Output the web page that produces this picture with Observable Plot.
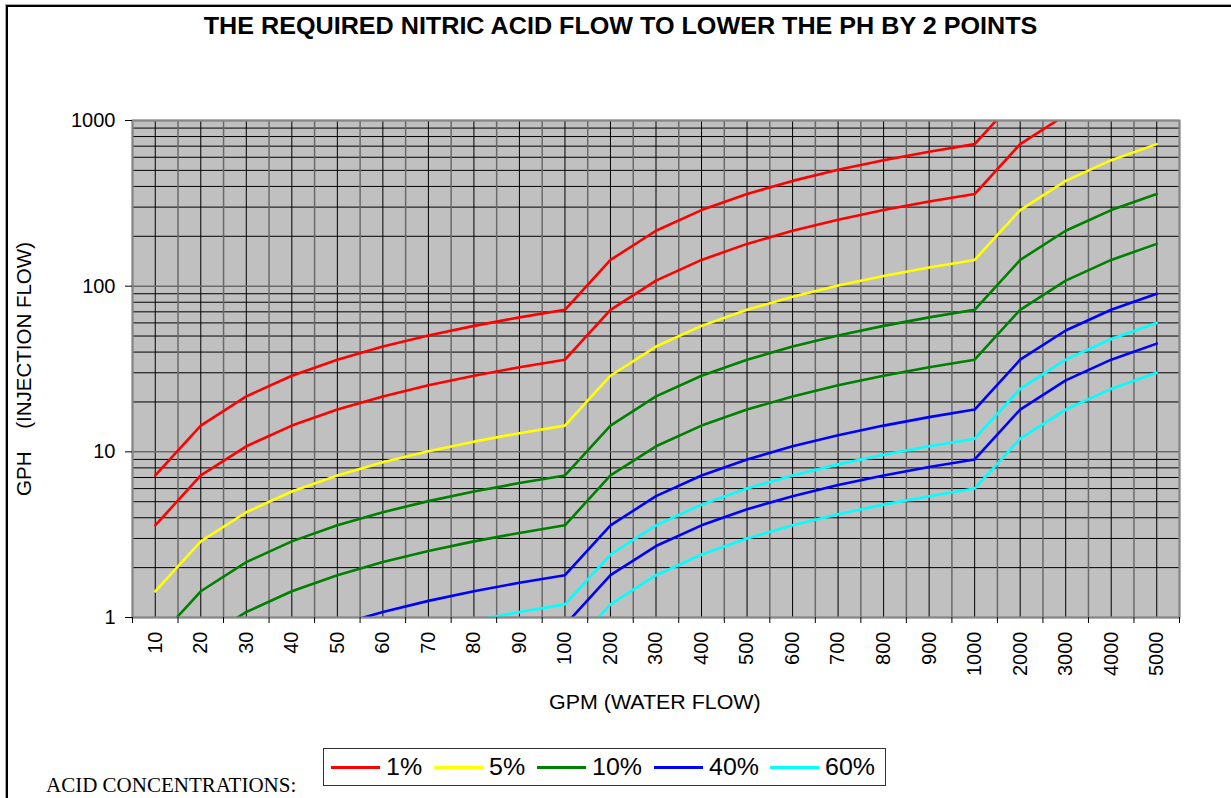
<!DOCTYPE html>
<html><head><meta charset="utf-8">
<script src="https://cdn.jsdelivr.net/npm/d3@7"></script>
<script src="https://cdn.jsdelivr.net/npm/@observablehq/plot@0.6"></script>
<style>
body{margin:0;background:#fff;}
#wrap{position:relative;width:1231px;height:798px;overflow:hidden;font-family:"Liberation Sans",Arial,sans-serif;color:#000;}
#border{position:absolute;left:6px;top:5px;width:1300px;height:900px;border-left:2px solid #000;border-top:2px solid #000;box-shadow:-1px -1px 0 #aaa;}
#chart{position:absolute;left:0;top:0;}
#title{position:absolute;left:0;width:1242px;top:14.5px;text-align:center;font-weight:bold;font-size:23.5px;line-height:1;white-space:nowrap;}
#title span{display:inline-block;transform:scaleX(1.07);}
#ylab{position:absolute;left:24px;top:369px;transform:translate(-50%,-50%) rotate(-90deg);font-size:20.5px;line-height:1;white-space:pre;}
#xlab{position:absolute;left:0;width:1310px;top:692px;text-align:center;font-size:20px;line-height:1;white-space:nowrap;}
#xlab span{display:inline-block;transform:scaleX(1.07);}
#legend{position:absolute;left:323px;top:748px;width:563px;height:38px;box-sizing:border-box;border:1px solid #333;display:flex;align-items:center;padding-left:7px;}
#legend .it{display:flex;align-items:center;margin-right:13.5px;}
#legend .sw{width:49px;height:3px;margin-right:6px;}
#legend .tx{font-size:24px;line-height:1;display:inline-block;transform:scaleX(1.04);transform-origin:left center;}
#acid{position:absolute;left:46px;top:774.5px;font-family:"Liberation Serif","Times New Roman",serif;font-size:21px;line-height:1;white-space:nowrap;}
</style>
</head><body>
<div id="wrap">
  <div id="border"></div>
  <div id="chart"></div>
  <div id="title"><span>THE REQUIRED NITRIC ACID FLOW TO LOWER THE PH BY 2 POINTS</span></div>
  <div id="ylab">GPH    (INJECTION FLOW)</div>
  <div id="xlab"><span>GPM (WATER FLOW)</span></div>
  <div id="legend"></div>
  <div id="acid">ACID CONCENTRATIONS:</div>
</div>
<script>
// X categories (GPM water flow)
const categories = ["10","20","30","40","50","60","70","80","90","100","200","300","400","500","600","700","800","900","1000","2000","3000","4000","5000"];
// Y tick labels (GPH)
const yTicks = [1, 10, 100, 1000];
const yMinor = [2,3,4,5,6,7,8,9,20,30,40,50,60,70,80,90,200,300,400,500,600,700,800,900];

// Legend / concentration names and colours
const concentrations = ["1%", "5%", "10%", "40%", "60%"];
const concColors = ["#ff0000", "#ffff00", "#008000", "#0000ff", "#00ffff"];

// Series values (GPH) read at each category
const acid1High = [7.2,14.4,21.6,28.8,36,43.2,50.4,57.6,64.8,72,144,216,288,360,432,504,576,648,720,1440,2160,2880,3600];
const acid1Low  = [3.6,7.2,10.8,14.4,18,21.6,25.2,28.8,32.4,36,72,108,144,180,216,252,288,324,360,720,1080,1440,1800];
const acid5High = [1.44,2.88,4.32,5.76,7.2,8.64,10.08,11.52,12.96,14.4,28.8,43.2,57.6,72,86.4,100.8,115.2,129.6,144,288,432,576,720];
const acid10High = [0.72,1.44,2.16,2.88,3.6,4.32,5.04,5.76,6.48,7.2,14.4,21.6,28.8,36,43.2,50.4,57.6,64.8,72,144,216,288,360];
const acid10Low  = [0.36,0.72,1.08,1.44,1.8,2.16,2.52,2.88,3.24,3.6,7.2,10.8,14.4,18,21.6,25.2,28.8,32.4,36,72,108,144,180];
const acid40High = [0.18,0.36,0.54,0.72,0.9,1.08,1.26,1.44,1.62,1.8,3.6,5.4,7.2,9,10.8,12.6,14.4,16.2,18,36,54,72,90];
const acid40Low  = [0.09,0.18,0.27,0.36,0.45,0.54,0.63,0.72,0.81,0.9,1.8,2.7,3.6,4.5,5.4,6.3,7.2,8.1,9,18,27,36,45];
const acid60High = [0.12,0.24,0.36,0.48,0.6,0.72,0.84,0.96,1.08,1.2,2.4,3.6,4.8,6,7.2,8.4,9.6,10.8,12,24,36,48,60];
const acid60Low  = [0.06,0.12,0.18,0.24,0.3,0.36,0.42,0.48,0.54,0.6,1.2,1.8,2.4,3,3.6,4.2,4.8,5.4,6,12,18,24,30];

const seriesList = [
  {name: "1% high", conc: "1%", values: acid1High},
  {name: "1% low", conc: "1%", values: acid1Low},
  {name: "5% high", conc: "5%", values: acid5High},
  {name: "10% high", conc: "10%", values: acid10High},
  {name: "10% low", conc: "10%", values: acid10Low},
  {name: "40% high", conc: "40%", values: acid40High},
  {name: "40% low", conc: "40%", values: acid40Low},
  {name: "60% high", conc: "60%", values: acid60High},
  {name: "60% low", conc: "60%", values: acid60Low}
];
const rows = seriesList.flatMap(s => s.values.map((v, i) => ({series: s.name, conc: s.conc, i, value: v})));
const centers = categories.map((_, i) => i);
const bounds = d3.range(categories.length + 1).map(i => i - 0.5);

const chart = Plot.plot({
  width: 1231,
  height: 798,
  marginTop: 120,
  marginBottom: 181,
  marginLeft: 132,
  marginRight: 52,
  style: {fontFamily: "'Liberation Sans', Arial, sans-serif", background: "transparent", color: "#000"},
  x: {type: "linear", domain: [-0.5, categories.length - 0.5]},
  y: {type: "log", domain: [1, 1000]},
  color: {domain: concentrations, range: concColors},
  marks: [
    Plot.frame({fill: "#c0c0c0"}),
    Plot.ruleY(yMinor, {stroke: "#000", strokeWidth: 1}),
    Plot.ruleX(centers, {stroke: "#000", strokeWidth: 1}),
    Plot.ruleY(yTicks, {stroke: "#6a6a6a", strokeWidth: 1.5}),
    Plot.ruleX(bounds, {stroke: "#6a6a6a", strokeWidth: 1.5}),
    Plot.line(rows, {x: "i", y: "value", z: "series", stroke: "conc", strokeWidth: 2.6, clip: true}),
    Plot.frame({stroke: "#888", strokeWidth: 2}),
    Plot.axisY({ticks: yTicks, tickFormat: d => String(d), tickSize: 7, tickPadding: 10, fontSize: 20, label: null}),
    Plot.axisX({ticks: bounds, tickFormat: () => "", tickSize: 6, label: null}),
    Plot.axisX({ticks: centers, tickFormat: i => categories[i], tickSize: 0, tickPadding: 14, tickRotate: -90, fontSize: 20, label: null})
  ]
});
document.getElementById("chart").appendChild(chart);

const legend = document.getElementById("legend");
concentrations.forEach((c, k) => {
  const it = document.createElement("div"); it.className = "it";
  const sw = document.createElement("span"); sw.className = "sw"; sw.style.background = concColors[k];
  const tx = document.createElement("span"); tx.className = "tx"; tx.textContent = c;
  it.appendChild(sw); it.appendChild(tx); legend.appendChild(it);
});
</script>
</body></html>
